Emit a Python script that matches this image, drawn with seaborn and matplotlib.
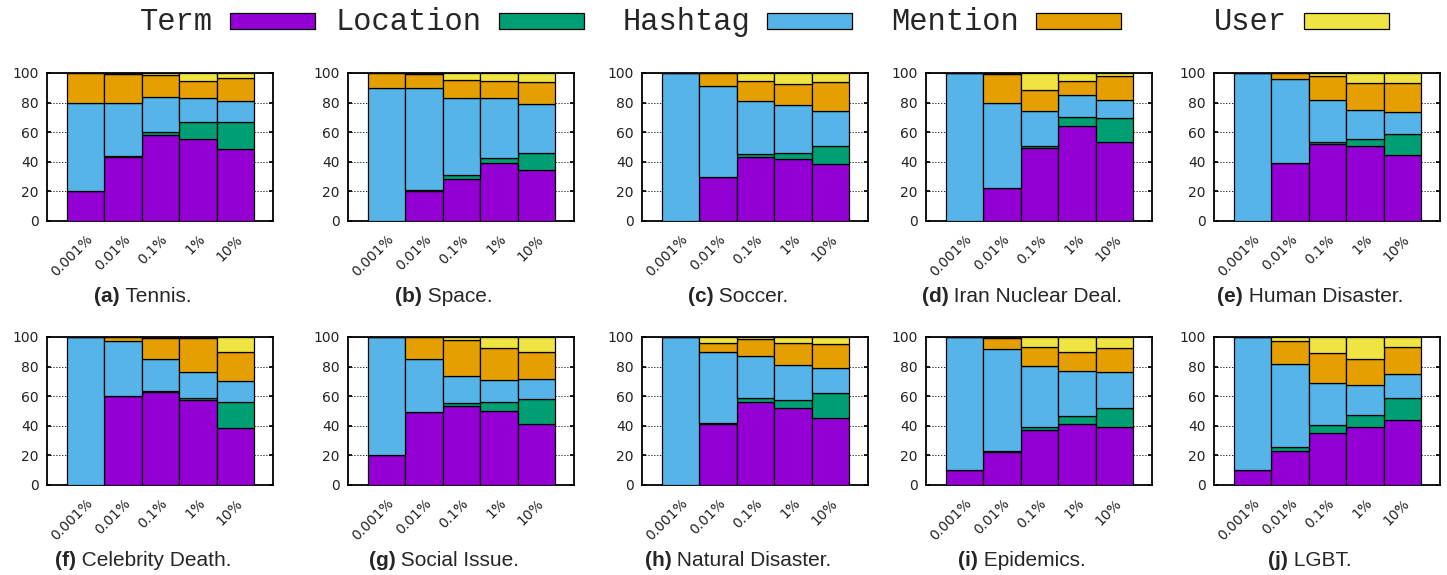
import matplotlib
matplotlib.use("Agg")
import matplotlib.pyplot as plt
from matplotlib.patches import Rectangle
import seaborn as sns
import pandas as pd

# --- data (percent share per bucket) ---
BUCKETS = ["0.001%", "0.01%", "0.1%", "1%", "10%"]
LETTERS = ["a", "b", "c", "d", "e", "f", "g", "h", "i", "j"]
TOPICS = ["Tennis.", "Space.", "Soccer.", "Iran Nuclear Deal.", "Human Disaster.",
          "Celebrity Death.", "Social Issue.", "Natural Disaster.", "Epidemics.", "LGBT."]
TYPES = ["Term", "Location", "Hashtag", "Mention", "User"]

TERM = [
    [20, 43, 58, 55.5, 48.5],
    [0, 20, 28.7, 39, 34.3],
    [0, 30, 43, 42, 38.6],
    [0, 22, 49.2, 64, 53.3],
    [0, 39, 52, 50.6, 44.7],
    [0, 60, 62.8, 57.1, 38.4],
    [20, 49, 53.3, 49.7, 41.1],
    [0, 41, 56.4, 51.7, 45.6],
    [10, 22, 37, 41.1, 39],
    [10, 22.8, 35, 39, 43.8],
]
LOCATION = [
    [0, 1, 2, 11.3, 18.3],
    [0, 1.2, 2.2, 3.9, 11.7],
    [0, 0, 2, 4, 12.4],
    [0, 0, 1.6, 6.4, 16.2],
    [0, 0, 1.7, 4.9, 14.2],
    [0, 0, 0.6, 1.4, 17.6],
    [0, 0, 1.8, 6.5, 16.7],
    [0, 1.1, 2.1, 5.6, 16.3],
    [0, 0.9, 2, 5.4, 12.7],
    [0, 3.2, 5.4, 8.6, 14.9],
]
HASHTAG = [
    [60, 36, 24, 16.2, 14],
    [90, 68.6, 52.4, 39.9, 33],
    [100, 61, 36.3, 32.3, 23.5],
    [100, 58, 23.2, 14.7, 12],
    [100, 57.2, 27.8, 19.4, 14.7],
    [100, 37.3, 21.7, 17.6, 14],
    [80, 36.1, 18.3, 14.5, 13.8],
    [100, 48, 28.9, 23.5, 17.1],
    [90, 69, 41.4, 30.5, 24.6],
    [90, 56, 28.4, 20.1, 16],
]
MENTION = [
    [20, 19.5, 14.5, 11.8, 15.8],
    [10, 9.5, 12, 11.8, 14.7],
    [0, 9, 13.5, 14.3, 19.2],
    [0, 19, 14.7, 9.3, 16.7],
    [0, 3.6, 16.7, 18.3, 19.9],
    [0, 2.7, 14.4, 23.2, 19.8],
    [0, 14.9, 24.8, 21.6, 18.5],
    [0, 5.8, 11.2, 15.1, 16],
    [0, 7.2, 12.8, 12.6, 16.3],
    [0, 15.3, 20.1, 17.6, 18.8],
]
USER = [
    [0, 0.5, 1.5, 5.2, 3.4],
    [0, 0.7, 4.7, 5.4, 6.3],
    [0, 0, 5.2, 7.4, 6.3],
    [0, 1, 11.3, 5.6, 1.8],
    [0, 0.2, 1.8, 6.8, 6.5],
    [0, 0, 0.5, 0.7, 10.2],
    [0, 0, 1.8, 7.7, 9.9],
    [0, 4.1, 1.4, 4.1, 5],
    [0, 0.9, 6.8, 10.4, 7.4],
    [0, 2.7, 11.1, 14.7, 6.5],
]

COLORS = {"Term": "#9400d3", "Location": "#009e73", "Hashtag": "#56b4e9",
          "Mention": "#e69f00", "User": "#f0e442"}

sns.set_theme(style="white")
plt.rcParams["font.family"] = ["DejaVu Sans"]

W, H = 1447, 575
fig = plt.figure(figsize=(W / 100, H / 100), dpi=100)

LEFTS = [47, 348, 642, 926, 1214]
ROW_TOPS = [73, 337]
AX_W, AX_H = 226, 148
CAP_Y = [297, 561]
CAP_FONT = ["Liberation Sans", "DejaVu Sans"]

series = [TERM, LOCATION, HASHTAG, MENTION, USER]
captions = []

for k, topic in enumerate(TOPICS):
    row, col = divmod(k, 5)
    left = LEFTS[col]
    top = ROW_TOPS[row]
    ax = fig.add_axes([left / W, (H - top - AX_H) / H, AX_W / W, AX_H / H])

    rows = []
    for t, vals in zip(TYPES, series):
        for i, v in enumerate(vals[k]):
            rows.append({"bucket": i, "type": t, "share": v})
    df = pd.DataFrame(rows)

    # seaborn stacks the last hue level at the bottom
    sns.histplot(data=df, x="bucket", weights="share", hue="type",
                 hue_order=TYPES[::-1], palette=COLORS, multiple="stack",
                 discrete=True, shrink=1.0, alpha=1.0, edgecolor="black",
                 linewidth=0.9, legend=False, ax=ax, zorder=3)

    ax.set_xlim(-1.03, 5.0)
    ax.set_ylim(0, 100)
    ax.set_yticks([0, 20, 40, 60, 80, 100])
    ax.set_xticks(range(len(BUCKETS)))
    ax.set_xticklabels(BUCKETS, rotation=45, ha="right", va="top",
                       rotation_mode="anchor", fontsize=10)
    ax.tick_params(axis="y", labelsize=10, direction="in", length=3,
                   left=True, right=True, color="black", pad=6)
    ax.tick_params(axis="x", length=0, pad=8)
    for lbl in ax.get_yticklabels() + ax.get_xticklabels():
        lbl.set_color("#222222")
    ax.yaxis.grid(True, color="black", linestyle=(0, (1.5, 2)), linewidth=0.6, zorder=0)
    ax.set_axisbelow(True)
    ax.set_xlabel("")
    ax.set_ylabel("")
    for sp in ax.spines.values():
        sp.set_visible(True)
        sp.set_color("black")
        sp.set_linewidth(1.3)

    y = 1 - CAP_Y[row] / H
    tb = fig.text(0, y, f"({LETTERS[k]})", ha="left", va="center",
                  fontsize=15, fontweight="bold", family=CAP_FONT)
    tn = fig.text(0, y, f" {topic}", ha="left", va="center",
                  fontsize=15, family=CAP_FONT)
    captions.append((left + AX_W / 2 - 17, tb, tn))

# center each "(x) Topic." caption as one line
renderer = fig.canvas.get_renderer()
for cx, tb, tn in captions:
    wb = tb.get_window_extent(renderer).width
    wn = tn.get_window_extent(renderer).width
    x0 = cx - (wb + wn) / 2
    tb.set_x(x0 / W)
    tn.set_x((x0 + wb) / W)

# gnuplot-style key along the top: text right-justified before each sample box
BOX_RIGHT0, COL_STEP, BOX_W = 315, 268.5, 85
BOX_TOP, BOX_BOT = 13, 29
for i, t in enumerate(TYPES):
    br = BOX_RIGHT0 + COL_STEP * i
    bl = br - BOX_W
    fig.add_artist(Rectangle((bl / W, 1 - BOX_BOT / H), BOX_W / W, (BOX_BOT - BOX_TOP) / H,
                             transform=fig.transFigure, facecolor=COLORS[t],
                             edgecolor="black", linewidth=0.9))
    fig.text((bl - 17) / W, 1 - 22 / H, t, ha="right", va="center",
             fontsize=22, family=["Liberation Mono", "DejaVu Sans Mono"])

fig.savefig("out.png", dpi=100)
